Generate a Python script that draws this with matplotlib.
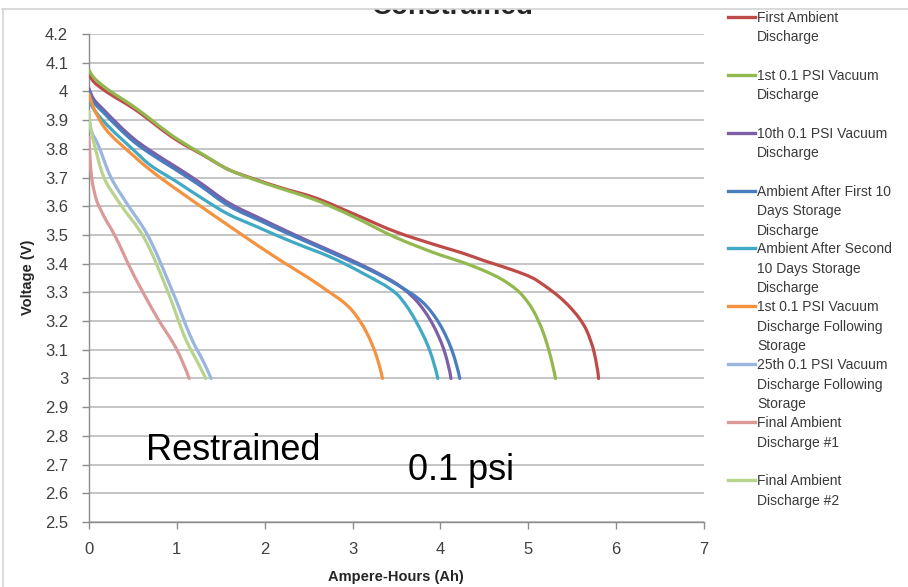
import numpy as np
import matplotlib
matplotlib.use("Agg")
import matplotlib.pyplot as plt
from matplotlib.lines import Line2D
from matplotlib.patches import Rectangle, PathPatch
from matplotlib.path import Path

# ---------------- data ----------------
series_names = [
    "First Ambient\nDischarge",
    "1st 0.1 PSI Vacuum\nDischarge",
    "10th 0.1 PSI Vacuum\nDischarge",
    "Ambient After First 10\nDays Storage\nDischarge",
    "Ambient After Second\n10 Days Storage\nDischarge",
    "1st 0.1 PSI Vacuum\nDischarge Following\nStorage",
    "25th 0.1 PSI Vacuum\nDischarge Following\nStorage",
    "Final Ambient\nDischarge #1",
    "Final Ambient\nDischarge #2",
]

first_ambient_ah = [0, 0.05, 0.17, 0.51, 1.0, 1.30, 1.60, 1.86, 2.20, 2.55, 3.0, 3.50, 4.00, 4.25,
                    4.50, 4.82, 5.05, 5.20, 5.35, 5.47, 5.58, 5.66, 5.75, 5.80]
first_ambient_v = [4.06, 4.035, 4.005, 3.94, 3.83, 3.778, 3.726, 3.697, 3.663, 3.632, 3.575, 3.51, 3.46, 3.437,
                   3.41, 3.378, 3.35, 3.32, 3.285, 3.25, 3.21, 3.17, 3.09, 3.0]

vac1_ah = [0, 0.05, 0.17, 0.51, 1.0, 1.30, 1.60, 1.86, 2.20, 2.55, 3.0, 3.50, 4.00, 4.25, 4.50, 4.70,
           4.90, 5.05, 5.17, 5.25, 5.31]
vac1_v = [4.075, 4.05, 4.017, 3.947, 3.835, 3.78, 3.726, 3.695, 3.66, 3.625, 3.565, 3.49, 3.43, 3.405, 3.375, 3.345,
          3.30, 3.24, 3.16, 3.08, 3.0]

vac10_ah = [0, 0.05, 0.17, 0.51, 0.69, 1.0, 1.25, 1.60, 1.98, 2.17, 2.51, 2.74, 2.93, 3.12, 3.30, 3.50,
            3.72, 3.91, 4.05, 4.12]
vac10_v = [4.01, 3.975, 3.935, 3.835, 3.795, 3.735, 3.685, 3.61, 3.553, 3.525, 3.477, 3.446, 3.42, 3.393, 3.365, 3.33,
           3.273, 3.19, 3.09, 3.0]

amb10_ah = [0, 0.05, 0.17, 0.51, 0.69, 1.0, 1.25, 1.60, 1.98, 2.17, 2.51, 2.74, 2.93, 3.12, 3.30, 3.50,
            3.80, 3.99, 4.14, 4.22]
amb10_v = [4.0, 3.965, 3.925, 3.825, 3.785, 3.725, 3.675, 3.60, 3.545, 3.518, 3.472, 3.441, 3.415, 3.389, 3.362, 3.328,
           3.265, 3.19, 3.09, 3.0]

amb20_ah = [0, 0.05, 0.17, 0.51, 0.69, 1.0, 1.30, 1.60, 1.90, 2.17, 2.36, 2.74, 3.12, 3.50, 3.62, 3.72, 3.875, 3.97]
amb20_v = [3.97, 3.94, 3.895, 3.795, 3.745, 3.685, 3.625, 3.57, 3.53, 3.494, 3.47, 3.424, 3.366, 3.295, 3.25, 3.20,
           3.10, 3.0]

vac1s_ah = [0, 0.05, 0.17, 0.51, 0.69, 0.89, 1.0, 1.27, 1.53, 1.72, 2.17, 2.50, 2.74, 2.90, 3.0, 3.16, 3.27, 3.34]
vac1s_v = [3.99, 3.945, 3.877, 3.775, 3.728, 3.682, 3.658, 3.60, 3.545, 3.505, 3.413, 3.35, 3.30, 3.265, 3.235, 3.16,
           3.08, 3.0]

vac25s_ah = [0, 0.03, 0.095, 0.25, 0.43, 0.655, 0.955, 1.18, 1.30, 1.39]
vac25s_v = [3.90, 3.86, 3.82, 3.70, 3.61, 3.506, 3.30, 3.13, 3.06, 3.0]

final1_ah = [0, 0.01, 0.03, 0.057, 0.087, 0.17, 0.28, 0.50, 0.77, 1.0, 1.14]
final1_v = [3.84, 3.78, 3.70, 3.655, 3.62, 3.565, 3.506, 3.366, 3.215, 3.10, 3.0]

final2_ah = [0, 0.02, 0.057, 0.17, 0.35, 0.62, 0.90, 1.11, 1.23, 1.33]
final2_v = [3.93, 3.87, 3.82, 3.70, 3.61, 3.494, 3.30, 3.13, 3.06, 3.0]

series_ah = [first_ambient_ah, vac1_ah, vac10_ah, amb10_ah, amb20_ah, vac1s_ah, vac25s_ah, final1_ah, final2_ah]
series_v = [first_ambient_v, vac1_v, vac10_v, amb10_v, amb20_v, vac1s_v, vac25s_v, final1_v, final2_v]

colors = ["#BE4B48", "#93B84F", "#7D5FA6", "#4A7CC0", "#3FA9C6", "#F49240", "#9AB5DE", "#DB9A9A", "#B8D38E"]

y_ticks = [2.5, 2.6, 2.7, 2.8, 2.9, 3.0, 3.1, 3.2, 3.3, 3.4, 3.5, 3.6, 3.7, 3.8, 3.9, 4.0, 4.1, 4.2]
y_ticklabels = ["2.5", "2.6", "2.7", "2.8", "2.9", "3", "3.1", "3.2", "3.3", "3.4", "3.5", "3.6",
                "3.7", "3.8", "3.9", "4", "4.1", "4.2"]
x_ticks = [0, 1, 2, 3, 4, 5, 6, 7]


# ---------------- smooth-line helper (like Excel "scatter with smooth lines") ----------------
def _pchip_slopes(t, y):
    h = np.diff(t)
    d = np.diff(y) / h
    n = len(y)
    m = np.zeros(n)
    if n == 2:
        m[:] = d[0]
        return m
    for k in range(1, n - 1):
        if d[k - 1] * d[k] <= 0:
            m[k] = 0.0
        else:
            w1 = 2 * h[k] + h[k - 1]
            w2 = h[k] + 2 * h[k - 1]
            m[k] = (w1 + w2) / (w1 / d[k - 1] + w2 / d[k])

    def end(h0, h1, d0, d1):
        v = ((2 * h0 + h1) * d0 - h0 * d1) / (h0 + h1)
        if np.sign(v) != np.sign(d0):
            v = 0.0
        elif np.sign(d0) != np.sign(d1) and abs(v) > abs(3 * d0):
            v = 3 * d0
        return v

    m[0] = end(h[0], h[1], d[0], d[1])
    m[-1] = end(h[-1], h[-2], d[-1], d[-2])
    return m


def smooth_path(xs, ys, sx=88.0, sy=287.0):
    x = np.asarray(xs, float)
    y = np.asarray(ys, float)
    seg = np.hypot(np.diff(x) * sx, np.diff(y) * sy)
    t = np.concatenate([[0], np.cumsum(seg)])
    mx = _pchip_slopes(t, x)
    my = _pchip_slopes(t, y)
    verts = [(x[0], y[0])]
    codes = [Path.MOVETO]
    for k in range(len(x) - 1):
        h = t[k + 1] - t[k]
        verts += [(x[k] + mx[k] * h / 3, y[k] + my[k] * h / 3),
                  (x[k + 1] - mx[k + 1] * h / 3, y[k + 1] - my[k + 1] * h / 3),
                  (x[k + 1], y[k + 1])]
        codes += [Path.CURVE4] * 3
    return Path(verts, codes)


# ---------------- figure ----------------
W, H = 908, 587
fig = plt.figure(figsize=(W / 100, H / 100), dpi=100)
fig.patch.set_facecolor("white")


def fx(x):
    return x / W


def fy(y):
    return 1 - y / H


FONT = ["Liberation Sans", "DejaVu Sans"]

ax = fig.add_axes([fx(89), fy(522), (704 - 89) / W, (522 - 34) / H])
ax.set_xlim(0, 7)
ax.set_ylim(2.5, 4.2)

for ah, v, c in zip(series_ah, series_v, colors):
    ax.add_patch(PathPatch(smooth_path(ah, v), fill=False, edgecolor=c, lw=2.3,
                           capstyle="round", joinstyle="round", zorder=3))

ax.set_yticks(y_ticks)
ax.set_yticklabels(y_ticklabels)
ax.set_xticks(x_ticks)
ax.set_xticklabels([str(t) for t in x_ticks])
ax.yaxis.grid(True, color="#c0c0c0", lw=1.3)
ax.set_axisbelow(True)
for s in ["top", "right"]:
    ax.spines[s].set_visible(False)
for s in ["left", "bottom"]:
    ax.spines[s].set_color("#8c8c8c")
    ax.spines[s].set_linewidth(1.0)
ax.tick_params(axis="both", direction="out", length=4.7, width=1.0, color="#8c8c8c",
               labelsize=12, labelcolor="#404040")
ax.tick_params(axis="y", pad=10.3)
ax.tick_params(axis="x", pad=10.0)
for lab in ax.get_xticklabels() + ax.get_yticklabels():
    lab.set_fontfamily(FONT)

fig.text(fx(396), fy(577), "Ampere-Hours (Ah)", ha="center", va="center", fontsize=10.5,
         fontweight="bold", color="#262626", family=FONT)
fig.text(fx(28), fy(277), "Voltage (V)", ha="center", va="center", rotation=90, fontsize=10.5,
         fontweight="bold", color="#262626", family=FONT)

# annotations inside plot
fig.text(fx(146), fy(460), "Restrained", ha="left", va="baseline", fontsize=26, color="black",
         family=FONT)
fig.text(fx(408), fy(480), "0.1 psi", ha="left", va="baseline", fontsize=26, color="black",
         family=FONT)

# title (its top is cropped away in the reference)
fig.text(fx(453), fy(13.5), "Constrained", ha="center", va="baseline", fontsize=20,
         fontweight="bold", color="#262626", family=FONT, zorder=3)
fig.add_artist(Rectangle((0, fy(9.3)), 1, 9.3 / H, transform=fig.transFigure,
                         facecolor="white", edgecolor="none", zorder=10))
# chart area border
fig.add_artist(Line2D([fx(2), 1], [fy(9.3), fy(9.3)], transform=fig.transFigure,
                      color="#d4d4d4", lw=1.2, zorder=11))
fig.add_artist(Line2D([fx(2.5), fx(2.5)], [fy(9.3), 0], transform=fig.transFigure,
                      color="#d4d4d4", lw=1.2, zorder=11))

# legend
legend_y = [17, 75, 133, 191, 248, 306, 364, 422, 480]
for name, c, ly in zip(series_names, colors, legend_y):
    fig.add_artist(Line2D([fx(728), fx(755)], [fy(ly), fy(ly)], transform=fig.transFigure,
                          color=c, lw=2.4, zorder=12))
    for k, line in enumerate(name.split("\n")):
        fig.text(fx(757), fy(ly + 19.5 * k + 5), line, ha="left", va="baseline", fontsize=10,
                 color="#3a3a3a", family=FONT, zorder=12)

fig.savefig("out.png", dpi=100)
